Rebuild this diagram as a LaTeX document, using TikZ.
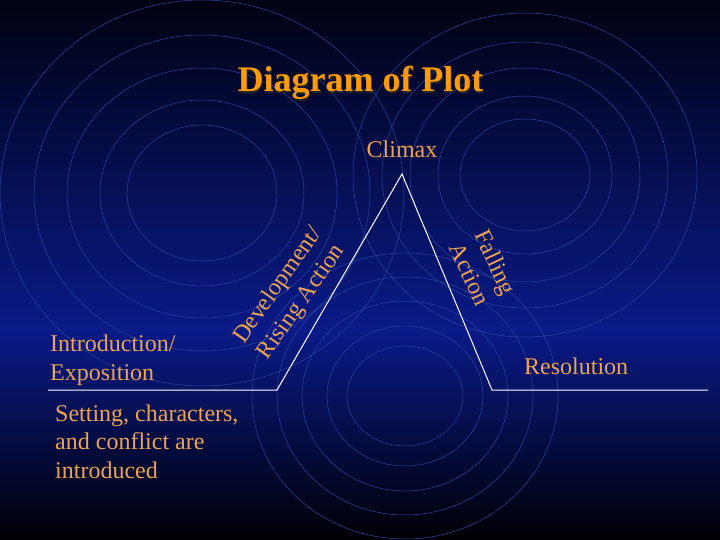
\documentclass[tikz,border=0pt]{standalone}
\usepackage{fontspec}
\setmainfont{Liberation Serif}
\usepackage{tikz}
\usetikzlibrary{positioning}

\definecolor{bgtop}{RGB}{1,2,18}
\definecolor{bgmid}{RGB}{10,26,135}
\definecolor{bgbottom}{RGB}{0,0,4}
\definecolor{ringblue}{RGB}{40,70,165}
\definecolor{labelorange}{RGB}{236,164,84}
\definecolor{titleorange}{RGB}{255,155,10}

\tikzset{
  ring/.style={draw=ringblue, line width=0.5pt},
  plotline/.style={draw=white, line width=1pt},
  plotlabel/.style={text=labelorange, inner sep=0pt, align=left,
    font=\fontsize{24}{28.5}\selectfont},
  titletext/.style={text=titleorange, inner sep=0pt,
    font=\fontsize{36}{40}\selectfont\bfseries}
}

\begin{document}
\begin{tikzpicture}[x=1pt, y=-1pt, node distance=12pt]
  \useasboundingbox (0,0) rectangle (720,540);
  % background
  \fill[top color=bgtop, bottom color=bgmid] (0,0) rectangle (720,330);
  \fill[top color=bgmid, bottom color=bgbottom] (0,330) rectangle (720,540);
  % rings
  \foreach \rx/\ry in {75/68, 102/93, 135/125, 168/158, 202/193}
    \draw[ring] (202,193) ellipse [x radius=\rx, y radius=\ry];
  \foreach \rx/\ry in {65/56, 87/79, 115/107, 143/133, 172/162}
    \draw[ring] (525,175) ellipse [x radius=\rx, y radius=\ry];
  \foreach \rx/\ry in {58/50, 78/70, 103/95, 128/119, 153/143}
    \draw[ring] (405,396) ellipse [x radius=\rx, y radius=\ry];

  % title
  \node[titletext, text=black!85, anchor=base] (titleshadow) at (361.5,93.5) {Diagram of Plot};
  \node[titletext, anchor=base] (title) at (360.5,92) {Diagram of Plot};

  % plot line
  \coordinate (start) at (48,390);
  \coordinate (valley) at (277,390);
  \coordinate (peak) at (402,174);
  \coordinate (foot) at (492,390);
  \coordinate (finish) at (708,390);
  \draw[plotline] (start) -- (valley) -- (peak) -- (foot) -- (finish);

  % labels
  \node[plotlabel, above=16pt of peak] (climax) {Climax};
  \node[plotlabel, anchor=south west] (resolution) at ([shift={(32pt,15pt)}]foot) {Resolution};
  \node[plotlabel, anchor=base west] (intro) at (50,380) {Introduction/\\Exposition};
  \node[plotlabel, anchor=base west] (setting) at (55,478) {Setting, characters,\\and conflict are\\introduced};
  \node[plotlabel, align=center, rotate=55] (rising) at (290,294) {Development/\\Rising Action};
  \node[plotlabel, align=center, rotate=-65] (falling) at (483,268) {Falling\\Action};
\end{tikzpicture}
\end{document}
